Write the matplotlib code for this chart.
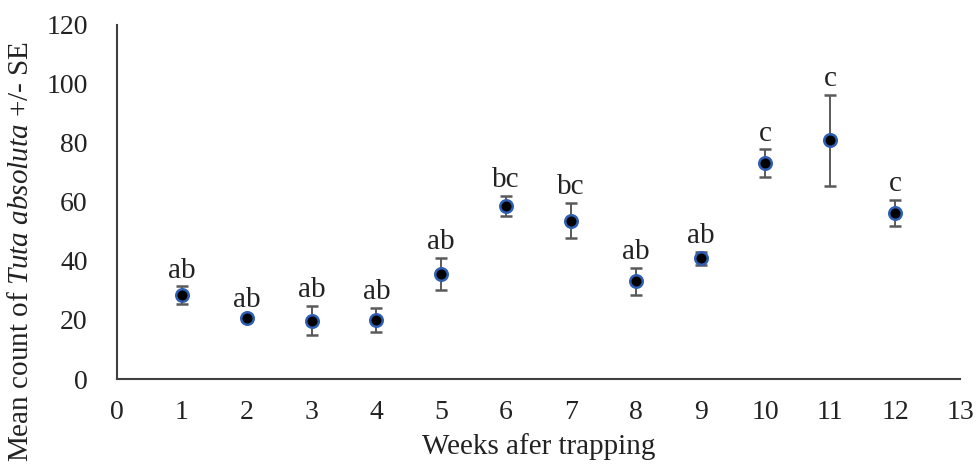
import matplotlib
matplotlib.use("Agg")
import matplotlib.pyplot as plt

# -----------------------------
# Data
# -----------------------------
weeks = [1, 2, 3, 4, 5, 6, 7, 8, 9, 10, 11, 12]
mean_count = [28.4, 20.6, 19.8, 20.0, 35.5, 58.8, 53.7, 33.1, 41.0, 73.2, 80.9, 56.3]
se = [3.0, 0.8, 5.0, 4.2, 5.5, 3.4, 6.0, 4.6, 2.2, 4.6, 15.4, 4.3]
letters = ["ab", "ab", "ab", "ab", "ab", "bc", "bc", "ab", "ab", "c", "c", "c"]

plt.rcParams["font.family"] = "Liberation Serif"
plt.rcParams["mathtext.fontset"] = "custom"
plt.rcParams["mathtext.rm"] = "Liberation Serif"
plt.rcParams["mathtext.it"] = "Liberation Serif:italic"

fig = plt.figure(figsize=(9.78, 4.75), dpi=100)
ax = fig.add_axes([0.1196, 0.2021, 0.862, 0.7453])

ax.errorbar(
    weeks, mean_count, yerr=se,
    fmt="o", color="black", markersize=9,
    markerfacecolor="black", markeredgecolor="#2F5FB3", markeredgewidth=1.8,
    ecolor="#5a5a5a", elinewidth=1.4, capsize=4.5, capthick=1.4
)

for x, y, e, lab in zip(weeks, mean_count, se, letters):
    ax.annotate(lab, (x, y + e), xytext=(0, 2), textcoords="offset points",
                ha="center", va="bottom", fontsize=21, color="#222222")

ax.set_xlim(0, 13)
ax.set_ylim(0, 120)
ax.set_xticks(range(0, 14))
ax.set_yticks(range(0, 121, 20))

for side in ["top", "right"]:
    ax.spines[side].set_visible(False)
for side in ["left", "bottom"]:
    ax.spines[side].set_color("#404040")
    ax.spines[side].set_linewidth(1.5)

ax.tick_params(axis="x", length=0, pad=15, labelsize=20, colors="#222222")
ax.tick_params(axis="y", length=0, pad=21, labelsize=20, colors="#222222")

ax.set_xlabel("Weeks afer trapping", fontsize=21, color="#222222", labelpad=6)
ax.set_ylabel("Mean count of $\\it{Tuta\\ absoluta}$ +/- SE", fontsize=21,
              color="#222222", va="center")
ax.yaxis.set_label_coords(-0.114, 0.36)

plt.savefig("out.png", dpi=100)
